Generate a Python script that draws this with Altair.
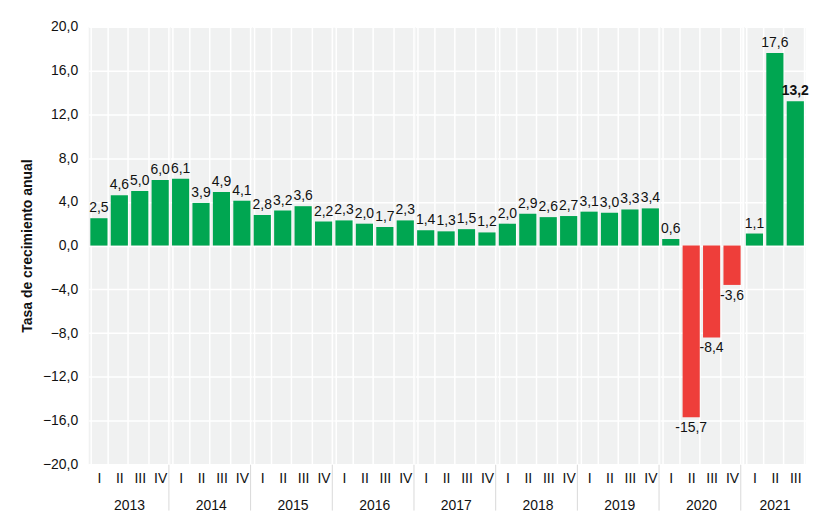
import altair as alt
import pandas as pd

years = ["2013"] * 4 + ["2014"] * 4 + ["2015"] * 4 + ["2016"] * 4 + ["2017"] * 4 + \
        ["2018"] * 4 + ["2019"] * 4 + ["2020"] * 4 + ["2021"] * 3
quarters = ["I", "II", "III", "IV"] * 8 + ["I", "II", "III"]
values = [2.5, 4.6, 5.0, 6.0,
          6.1, 3.9, 4.9, 4.1,
          2.8, 3.2, 3.6, 2.2,
          2.3, 2.0, 1.7, 2.3,
          1.4, 1.3, 1.5, 1.2,
          2.0, 2.9, 2.6, 2.7,
          3.1, 3.0, 3.3, 3.4,
          0.6, -15.7, -8.4, -3.6,
          1.1, 17.6, 13.2]
y_ticks = [20, 16, 12, 8, 4, 0, -4, -8, -12, -16, -20]

df = pd.DataFrame({"year": years, "q": quarters, "value": values})
df["label"] = df["value"].map(lambda v: f"{v:.1f}".replace(".", ","))
df["sign"] = df["value"].map(lambda v: "pos" if v >= 0 else "neg")
df["bold"] = [i == len(values) - 1 for i in range(len(values))]

FONT = "Liberation Sans"
GREEN = "#00a651"
RED = "#ee3e3a"
QSORT = ["I", "II", "III", "IV"]

yscale = alt.Scale(domain=[-20, 20], nice=False, zero=False)
xscale = alt.Scale(paddingInner=0.16, paddingOuter=0.08)

base = alt.Chart()

bars = base.mark_bar().encode(
    x=alt.X("q:N", sort=QSORT, scale=xscale, title=None,
            axis=alt.Axis(
                labelAngle=0, labelFont=FONT, labelFontSize=14, labelColor="#111",
                labelPadding=-32, labelBaseline="middle", domain=False,
                grid=True, gridColor="white", gridWidth=1.5, tickBand="extent",
                tickSize=46, tickWidth=1,
                tickColor=alt.condition("datum.value === 'IV'", alt.value("#d9d9d9"), alt.value("transparent")),
            )),
    y=alt.Y("value:Q", scale=yscale, title="Tasa de crecimiento anual",
            axis=alt.Axis(values=y_ticks, labelExpr="replace(format(datum.value, '.1f'), '.', ',')",
                          labelFont=FONT, labelFontSize=14, labelColor="#111", labelPadding=11,
                          ticks=False, domain=False, grid=True, gridColor="white", gridWidth=1.5,
                          titleFont=FONT, titleFontSize=14, titleFontWeight="bold", titleColor="#111",
                          titlePadding=8)),
    color=alt.Color("sign:N", scale=alt.Scale(domain=["pos", "neg"], range=[GREEN, RED]), legend=None),
)

pos_text = base.transform_filter("datum.value >= 0 && !datum.bold").mark_text(
    baseline="bottom", dy=-3, font=FONT, fontSize=14, color="#111"
).encode(
    x=alt.X("q:N", sort=QSORT, scale=xscale),
    y=alt.Y("value:Q", scale=yscale),
    text="label:N",
)

bold_text = base.transform_filter("datum.bold").mark_text(
    baseline="bottom", dy=-3, font=FONT, fontSize=14, fontWeight="bold", color="#111"
).encode(
    x=alt.X("q:N", sort=QSORT, scale=xscale),
    y=alt.Y("value:Q", scale=yscale),
    text="label:N",
)

neg_text = base.transform_filter("datum.value < 0").mark_text(
    baseline="top", dy=4, font=FONT, fontSize=14, color="#111"
).encode(
    x=alt.X("q:N", sort=QSORT, scale=xscale),
    y=alt.Y("value:Q", scale=yscale),
    text="label:N",
)

layered = alt.layer(bars, pos_text, bold_text, neg_text).properties(
    width=alt.Step(20.5), height=439
)

chart = layered.facet(
    data=df,
    column=alt.Column("year:N", title=None,
                      header=alt.Header(labelOrient="bottom", labelFont=FONT, labelFontSize=14,
                                        labelColor="#111", labelPadding=-12)),
    spacing=0,
).resolve_scale(x="independent").configure_view(
    fill="#f0f1f1", stroke=None
).properties(
    padding={"left": 12, "top": 11, "right": 0, "bottom": 0}
)

chart.save("out.html", embed_options={"renderer": "svg", "actions": False})
